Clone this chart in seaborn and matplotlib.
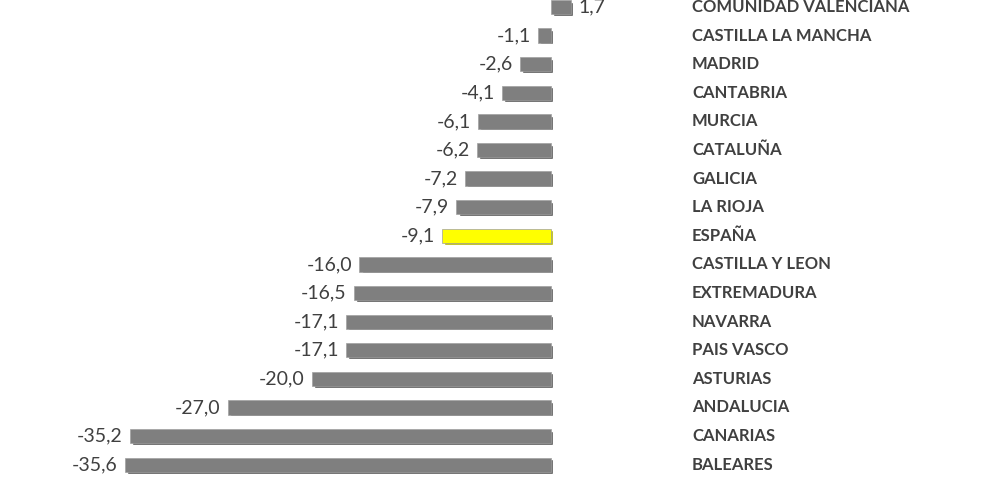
import matplotlib
matplotlib.use("Agg")
import matplotlib.pyplot as plt
import matplotlib.transforms as mtransforms
import seaborn as sns
import pandas as pd

regions = ["COMUNIDAD VALENCIANA", "CASTILLA LA MANCHA", "MADRID", "CANTABRIA", "MURCIA",
           "CATALUÑA", "GALICIA", "LA RIOJA", "ESPAÑA", "CASTILLA Y LEON", "EXTREMADURA",
           "NAVARRA", "PAIS VASCO", "ASTURIAS", "ANDALUCIA", "CANARIAS", "BALEARES"]
values = [1.7, -1.1, -2.6, -4.1, -6.1, -6.2, -7.2, -7.9, -9.1, -16.0, -16.5,
          -17.1, -17.1, -20.0, -27.0, -35.2, -35.6]
highlight = "ESPAÑA"

df = pd.DataFrame({"region": regions, "value": values})
df["grupo"] = ["hl" if r == highlight else "base" for r in regions]

sns.set_style("white")
plt.rcParams["font.family"] = ["Lato", "DejaVu Sans"]

fig = plt.figure(figsize=(9.9, 4.91), dpi=100)
ax = fig.add_axes([0, 0, 1, 1])

# sombra / cara lateral para el efecto 3D
shift = ax.transData + mtransforms.ScaledTranslation(1.5/72, -1.2/72, fig.dpi_scale_trans)
shadow_cols = ["#b5b500" if r == highlight else "#555555" for r in regions]
ax.barh(range(len(values)), values, height=0.5, color=shadow_cols, transform=shift, zorder=1)
sns.barplot(data=df, x="value", y="region", hue="grupo", orient="h", dodge=False,
            palette={"base": "#7f7f7f", "hl": "#ffff00"}, saturation=1, width=0.5,
            edgecolor="#a0a0a0", linewidth=0.5, legend=False, ax=ax, zorder=2)

for i, v in enumerate(values):
    txt = f"{v:.1f}".replace(".", ",")
    if v >= 0:
        ax.text(v + 0.6, i, txt, ha="left", va="center", fontsize=14, color="#404040")
    else:
        ax.text(v - 0.6, i, txt, ha="right", va="center", fontsize=14, color="#404040")
    ax.text(11.78, i, regions[i], ha="left", va="center", fontsize=12,
            fontweight="bold", color="#404040")

ax.set_xlim(-46.03, 36.67)
ax.set_ylim(16.92, -0.245)
ax.set_axis_off()

fig.savefig("out.png", dpi=100, facecolor="white")
